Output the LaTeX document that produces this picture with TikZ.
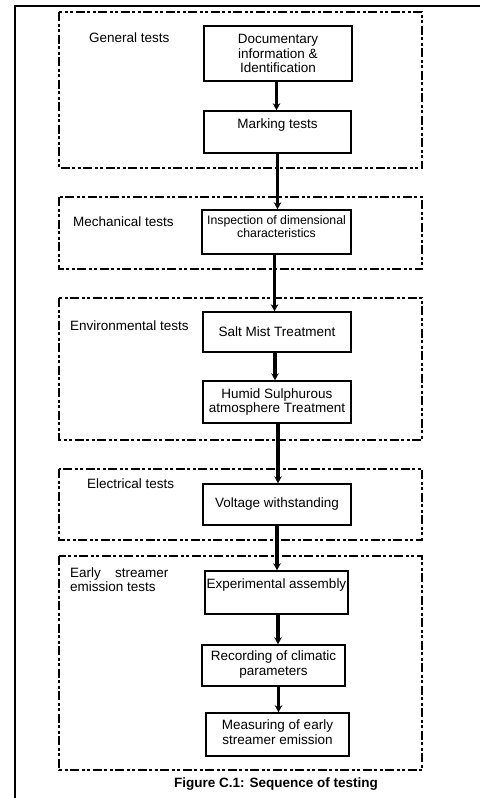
\documentclass[tikz,border=0pt]{standalone}
\usepackage{fontspec}
\setmainfont{Liberation Sans}
\usetikzlibrary{arrows.meta}
\begin{document}
\begin{tikzpicture}[x=1pt,y=-1pt,
  grp/.style={draw=black,line width=2.4pt,dash pattern=on 9pt off 2.5pt on 3pt off 2.5pt on 3pt off 2.5pt},
  box/.style={draw=black,line width=1.4pt,minimum width=148pt,align=center,inner sep=1pt,font=\fontsize{13.5pt}{14.5pt}\selectfont},
  lbl/.style={anchor=west,inner sep=0pt,align=left,font=\fontsize{13.5pt}{14.5pt}\selectfont},
  arr/.style={line width=3.2pt,-{Stealth[length=7pt,width=7.5pt]}}]
\useasboundingbox (0,0) rectangle (480,798);
% outer frame
\draw[line width=1.5pt] (15,798) -- (15,6) -- (480,6);
% groups
\draw[grp] (59,12) rectangle (422,168);
\draw[grp] (59,197) rectangle (422,269);
\draw[grp] (59,298) rectangle (422,440);
\draw[grp] (59,469) rectangle (422,540);
\draw[grp] (59,556) rectangle (422,770);
% group labels
\node[lbl] (g1) at (89,38) {General tests};
\node[lbl] (g2) at (73,222) {Mechanical tests};
\node[lbl] (g3) at (70,326) {Environmental tests};
\node[lbl] (g4) at (87,484) {Electrical tests};
\node[lbl] (g5) at (70,579.5) {Early\hspace{1.05em}streamer\\emission tests};
% boxes
\node[box,minimum height=55pt] (doc) at (278,53.5) {Documentary\\information \&\\Identification};
\node[box,minimum height=42pt,minimum width=147pt] (mark) at (277.5,132) {Marking tests\\[-3pt]\strut};
\node[box,minimum height=44pt,minimum width=149pt,font=\fontsize{12.3pt}{12.5pt}\selectfont] (insp) at (276.5,232) {Inspection of dimensional\\characteristics\\[-5pt]\strut};
\node[box,minimum height=40pt] (salt) at (277,332) {Salt Mist Treatment};
\node[box,minimum height=42pt] (humid) at (277,402) {Humid Sulphurous\\atmosphere Treatment};
\node[box,minimum height=41pt] (volt) at (277,504.5) {Voltage withstanding};
\node[box,minimum height=43pt,minimum width=143pt] (exp) at (276.5,592.5) {Experimental assembly\\[-1pt]\strut};
\node[box,minimum height=41pt,minimum width=143pt] (rec) at (273.5,665.5) {Recording of climatic\\parameters\\[-10pt]};
\node[box,minimum height=43pt,minimum width=143pt] (meas) at (277.5,734.5) {Measuring of early\\streamer emission\\[-10pt]};
% arrows
\draw[arr] ([xshift=-1.5pt]doc.south) -- ([xshift=-1.5pt]doc.south |- mark.north);
\draw[arr] (mark.south) -- (mark.south |- insp.north);
\draw[arr] ([xshift=-2pt]insp.south) -- ([xshift=-2pt]insp.south |- salt.north);
\draw[arr] ([xshift=-2pt]salt.south) -- ([xshift=-2pt]salt.south |- humid.north);
\draw[arr] ([xshift=1pt]humid.south) -- ([xshift=1pt]humid.south |- volt.north);
\draw[arr] (volt.south) -- (volt.south |- exp.north);
\draw[arr] ([xshift=1.5pt]exp.south) -- ([xshift=1.5pt]exp.south |- rec.north);
\draw[arr] ([xshift=5pt]rec.south) -- ([xshift=5pt]rec.south |- meas.north);
% caption
\node[font=\bfseries\fontsize{13.5pt}{14pt}\selectfont,inner sep=0pt] (cap) at (276,784) {Figure C.1: Sequence of testing};
\end{tikzpicture}
\end{document}
